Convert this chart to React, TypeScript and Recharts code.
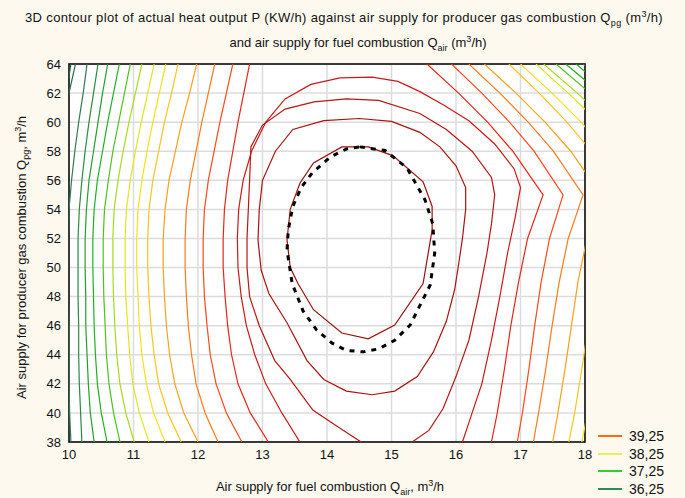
import React from 'react'
import { LineChart, Line, XAxis, YAxis, CartesianGrid, ReferenceArea } from 'recharts'

const xTicks = [10, 11, 12, 13, 14, 15, 16, 17, 18]
const yTicks = [38, 40, 42, 44, 46, 48, 50, 52, 54, 56, 58, 60, 62, 64]

const legendLevels = ['39,25', '38,25', '37,25', '36,25']

// open contours on the left: x at each leftY
const leftY = [64, 62, 60, 58, 56, 54, 52, 50, 48, 46, 44, 42, 40, 38]
const leftArcs = [
  [10.03, 9.96, 9.92, 9.88, 9.86, 9.85, 9.85, 9.85, 9.85, 9.86, 9.87, 9.88, 9.9, 9.92],
  [10.1, 10.0, 9.95, 9.92, 9.9, 9.89, 9.89, 9.89, 9.89, 9.9, 9.92, 9.94, 9.96, 9.98],
  [10.28, 10.22, 10.15, 10.09, 10.04, 10.0, 9.99, 9.99, 9.99, 10.0, 10.0, 10.0, 10.01, 10.03],
  [10.45, 10.38, 10.31, 10.25, 10.2, 10.16, 10.14, 10.14, 10.14, 10.15, 10.15, 10.16, 10.18, 10.2],
  [10.6, 10.52, 10.45, 10.38, 10.31, 10.27, 10.25, 10.25, 10.26, 10.26, 10.28, 10.3, 10.33, 10.39],
  [10.78, 10.69, 10.6, 10.52, 10.44, 10.39, 10.37, 10.37, 10.38, 10.39, 10.41, 10.44, 10.5, 10.59],
  [10.95, 10.86, 10.77, 10.68, 10.61, 10.55, 10.53, 10.53, 10.54, 10.56, 10.58, 10.62, 10.69, 10.79],
  [11.13, 11.03, 10.93, 10.84, 10.76, 10.7, 10.68, 10.68, 10.69, 10.71, 10.74, 10.79, 10.88, 11.01],
  [11.32, 11.22, 11.12, 11.03, 10.95, 10.89, 10.87, 10.87, 10.88, 10.91, 10.94, 10.99, 11.09, 11.24],
  [11.5, 11.4, 11.3, 11.21, 11.13, 11.07, 11.05, 11.05, 11.07, 11.09, 11.13, 11.2, 11.31, 11.49],
  [11.69, 11.59, 11.48, 11.39, 11.3, 11.24, 11.22, 11.22, 11.24, 11.27, 11.32, 11.39, 11.53, 11.74],
  [11.98, 11.87, 11.75, 11.65, 11.55, 11.49, 11.46, 11.46, 11.48, 11.51, 11.56, 11.64, 11.78, 12.0],
  [12.26, 12.16, 12.06, 11.97, 11.88, 11.82, 11.8, 11.8, 11.82, 11.85, 11.9, 11.97, 12.11, 12.31],
  [12.54, 12.44, 12.34, 12.25, 12.16, 12.1, 12.08, 12.08, 12.1, 12.14, 12.19, 12.28, 12.44, 12.68],
  [12.8, 12.71, 12.62, 12.54, 12.46, 12.41, 12.39, 12.39, 12.42, 12.46, 12.52, 12.62, 12.81, 13.09],
]

// the same contours on the right side: x at each rightY
const rightY = [64, 62, 60, 58, 55, 52, 49, 46, 43, 40, 38]
const rightArcs = [
  [18.3, 18.8, 19.3, 19.7, 20.2, 19.9, 19.7, 19.6, 19.5, 19.4, 19.3],
  [18.2, 18.7, 19.2, 19.6, 20.1, 19.8, 19.6, 19.5, 19.4, 19.3, 19.2],
  [18.08, 18.6, 19.1, 19.5, 20.0, 19.7, 19.5, 19.4, 19.3, 19.2, 19.1],
  [17.97, 18.5, 19.0, 19.45, 19.95, 19.65, 19.45, 19.3, 19.2, 19.1, 19.0],
  [17.86, 18.41, 18.92, 19.37, 19.9, 19.6, 19.45, 19.3, 19.2, 19.1, 19.0],
  [17.7, 18.24, 18.74, 19.18, 19.7, 19.43, 19.27, 19.14, 19.03, 18.9, 18.8],
  [17.55, 18.08, 18.56, 18.99, 19.5, 19.23, 19.07, 18.94, 18.83, 18.7, 18.6],
  [17.36, 17.88, 18.37, 18.8, 19.3, 19.03, 18.87, 18.74, 18.63, 18.5, 18.4],
  [17.24, 17.74, 18.21, 18.62, 19.1, 18.83, 18.67, 18.54, 18.43, 18.3, 18.2],
  [17.0, 17.49, 17.94, 18.33, 18.8, 18.55, 18.39, 18.27, 18.16, 18.04, 17.95],
  [16.82, 17.29, 17.72, 18.1, 18.55, 18.31, 18.17, 18.05, 17.95, 17.84, 17.75],
  [16.44, 16.93, 17.38, 17.78, 18.25, 18.03, 17.89, 17.79, 17.69, 17.58, 17.5],
  [16.2, 16.68, 17.12, 17.51, 17.97, 17.74, 17.6, 17.49, 17.39, 17.28, 17.2],
  [15.93, 16.4, 16.83, 17.21, 17.66, 17.45, 17.32, 17.22, 17.13, 17.03, 16.95],
  [15.55, 16.04, 16.49, 16.88, 17.35, 17.11, 16.97, 16.85, 16.75, 16.64, 16.55],
]

// contours closed at the top, cut by the bottom edge: [x, y]
const archOuter = [
  [13.58, 38], [13.3, 40], [13.05, 42], [12.88, 44], [12.75, 46], [12.67, 48], [12.62, 50], [12.61, 52],
  [12.63, 54], [12.7, 56], [12.83, 58], [13.05, 60], [13.35, 61.6], [13.75, 62.6], [14.2, 63.05], [14.7, 63.1],
  [15.1, 62.8], [15.44, 62.1], [15.8, 61.2], [16.2, 60.1], [16.6, 58.5], [16.9, 56.8], [17.0, 55.5], [16.92, 53.5],
  [16.8, 51], [16.68, 48], [16.55, 45], [16.4, 42], [16.25, 40], [16.1, 38],
]
const archInner = [
  [14.53, 38], [14.25, 38.8], [14.05, 39.4], [13.78, 40.2], [13.43, 42.3], [13.19, 43.6], [12.95, 46], [12.8, 48],
  [12.76, 50], [12.76, 52], [12.78, 54], [12.8, 56], [12.82, 58.3], [13.0, 59.8], [13.35, 60.9], [13.8, 61.4],
  [14.3, 61.6], [14.8, 61.5], [15.44, 60.6], [15.85, 59.5], [16.25, 58], [16.55, 56.2], [16.6, 55], [16.55, 53],
  [16.48, 51], [16.35, 48], [16.2, 45], [16.0, 42.5], [15.8, 40.3], [15.58, 38.8], [15.32, 38],
]
// closed loops
const loopOuter = [
  [14.5, 60.25], [15.0, 60.05], [15.44, 59.3], [15.75, 58.3], [16.0, 57], [16.15, 55.5], [16.15, 54], [16.1, 52],
  [16.05, 50.5], [15.98, 48.5], [15.85, 46.3], [15.65, 44.2], [15.4, 42.5], [15.05, 41.5], [14.7, 41.25], [14.3, 41.5],
  [13.95, 42.3], [13.69, 43.6], [13.38, 46.2], [13.1, 48.2], [12.98, 49.8], [12.93, 51.9], [12.95, 54], [13.0, 56],
  [13.2, 58], [13.47, 59.5], [13.95, 60.1], [14.5, 60.25],
]
const loopInner = [
  [14.64, 58.3], [15.02, 57.7], [15.49, 55.9], [15.63, 54.2], [15.63, 52.6], [15.49, 48.9], [15.05, 46.05],
  [14.64, 45.1], [14.23, 45.5], [13.79, 47.1], [13.55, 48.9], [13.43, 50.0], [13.38, 51.9], [13.43, 54.0],
  [13.58, 55.8], [13.79, 57.2], [14.23, 58.3], [14.64, 58.3],
]
const optimum = [
  [14.51, 58.3], [14.9, 58.05], [15.24, 56.85], [15.52, 54.65], [15.64, 53.0], [15.67, 51.0], [15.6, 48.8],
  [15.29, 46.05], [15.05, 45.0], [14.8, 44.4], [14.56, 44.2], [14.3, 44.3], [14.08, 44.8], [13.84, 45.7],
  [13.63, 47.0], [13.46, 48.9], [13.38, 51.2], [13.4, 52.6], [13.47, 54.2], [13.6, 55.5], [13.77, 56.5],
  [14.05, 57.6], [14.3, 58.15], [14.51, 58.3],
]

const arcColors = [
  '#27654a', '#2a704c', '#2e7b52', '#2a8b40', '#23a02b', '#1fb21f', '#4cc41a', '#a6dc1c', '#dfe81c',
  '#f6e21a', '#ffc41a', '#ffa01a', '#ff7a1a', '#ff4a1a', '#e6261a',
]
const legendColors = ['#ff6a10', '#e4f25a', '#33cc33', '#2e8b57']

const font = '"Liberation Sans", Arial, sans-serif'

const toPts = (xs: number[], ys: number[]) => xs.map((x, i) => ({ x, y: ys[i] }))
const pairPts = (p: number[][]) => p.map(([x, y]) => ({ x, y }))

function contour(key: string, pts: { x: number; y: number }[], color: string) {
  return (
    <Line
      key={key}
      data={pts}
      dataKey="y"
      type="linear"
      stroke={color}
      strokeWidth={1.2}
      dot={false}
      activeDot={false}
      isAnimationActive={false}
    />
  )
}

export default function App() {
  return (
    <div style={{ position: 'absolute', left: 0, top: 0, width: 685, height: 498, background: '#fef9ee', fontFamily: font }}>
      <div style={{ position: 'absolute', left: 0, top: 9, width: 688, textAlign: 'center', fontSize: 13, letterSpacing: 0.35, color: '#111' }}>
        3D contour plot of actual heat output P (KW/h) against air supply for producer gas combustion Q<sub style={{ fontSize: 9 }}>pg</sub> (m<sup style={{ fontSize: 9 }}>3</sup>/h)
      </div>
      <div style={{ position: 'absolute', left: 0, top: 34, width: 716, textAlign: 'center', fontSize: 13, color: '#111' }}>
        and air supply for fuel combustion Q<sub style={{ fontSize: 9 }}>air</sub> (m<sup style={{ fontSize: 9 }}>3</sup>/h)
      </div>

      <LineChart width={685} height={498} margin={{ top: 64, right: 100, bottom: 26, left: 39 }} style={{ position: 'absolute', left: 0, top: 0 }}>
        <CartesianGrid stroke="#dcdcdc" strokeWidth={1.5} fill="#ffffff" fillOpacity={1} />
        <XAxis
          type="number"
          dataKey="x"
          domain={[10, 18]}
          ticks={xTicks}
          allowDataOverflow
          height={30}
          axisLine={false}
          tickLine={false}
          tick={{ fill: '#111', fontSize: 13, fontFamily: font }}
        />
        <YAxis
          type="number"
          dataKey="y"
          domain={[38, 64]}
          ticks={yTicks}
          allowDataOverflow
          width={30}
          axisLine={false}
          tickLine={false}
          tick={{ fill: '#111', fontSize: 13, fontFamily: font }}
        />
        {leftArcs.map((xs, i) => contour(`l${i}`, toPts(xs, leftY), arcColors[i]))}
        {rightArcs.map((xs, i) => contour(`r${i}`, toPts(xs, rightY), arcColors[i]))}
        {contour('a1', pairPts(archOuter), '#cc1a1a')}
        {contour('a2', pairPts(archInner), '#b81616')}
        {contour('c1', pairPts(loopOuter), '#a81212')}
        {contour('c0', pairPts(loopInner), '#991010')}
        <Line
          data={pairPts(optimum)}
          dataKey="y"
          type="linear"
          stroke="#000"
          strokeWidth={3}
          strokeDasharray="5 6"
          dot={false}
          activeDot={false}
          isAnimationActive={false}
        />
        <ReferenceArea x1={10} x2={18} y1={38} y2={64} fill="none" fillOpacity={0} stroke="#000" strokeWidth={1.5} />
      </LineChart>

      <div style={{ position: 'absolute', left: 0, top: 478, width: 660, textAlign: 'center', fontSize: 13, color: '#111' }}>
        Air supply for fuel combustion Q<sub style={{ fontSize: 9 }}>air</sub>, m<sup style={{ fontSize: 9 }}>3</sup>/h
      </div>
      <div
        style={{
          position: 'absolute', left: 22, top: 253, width: 400, marginLeft: -200, textAlign: 'center',
          fontSize: 13, color: '#111', transform: 'rotate(-90deg)', transformOrigin: '50% 50%', lineHeight: '16px', marginTop: -8,
        }}
      >
        Air supply for producer gas combustion Q<sub style={{ fontSize: 9 }}>pg</sub>, m<sup style={{ fontSize: 9 }}>3</sup>/h
      </div>

      {legendLevels.map((lv, i) => (
        <div key={lv} style={{ position: 'absolute', left: 598, top: 427 + i * 17.5, height: 18, display: 'flex', alignItems: 'center' }}>
          <div style={{ width: 24, height: 2, background: legendColors[i] }} />
          <span style={{ marginLeft: 7, fontSize: 14, color: '#111' }}>{lv}</span>
        </div>
      ))}
    </div>
  )
}
